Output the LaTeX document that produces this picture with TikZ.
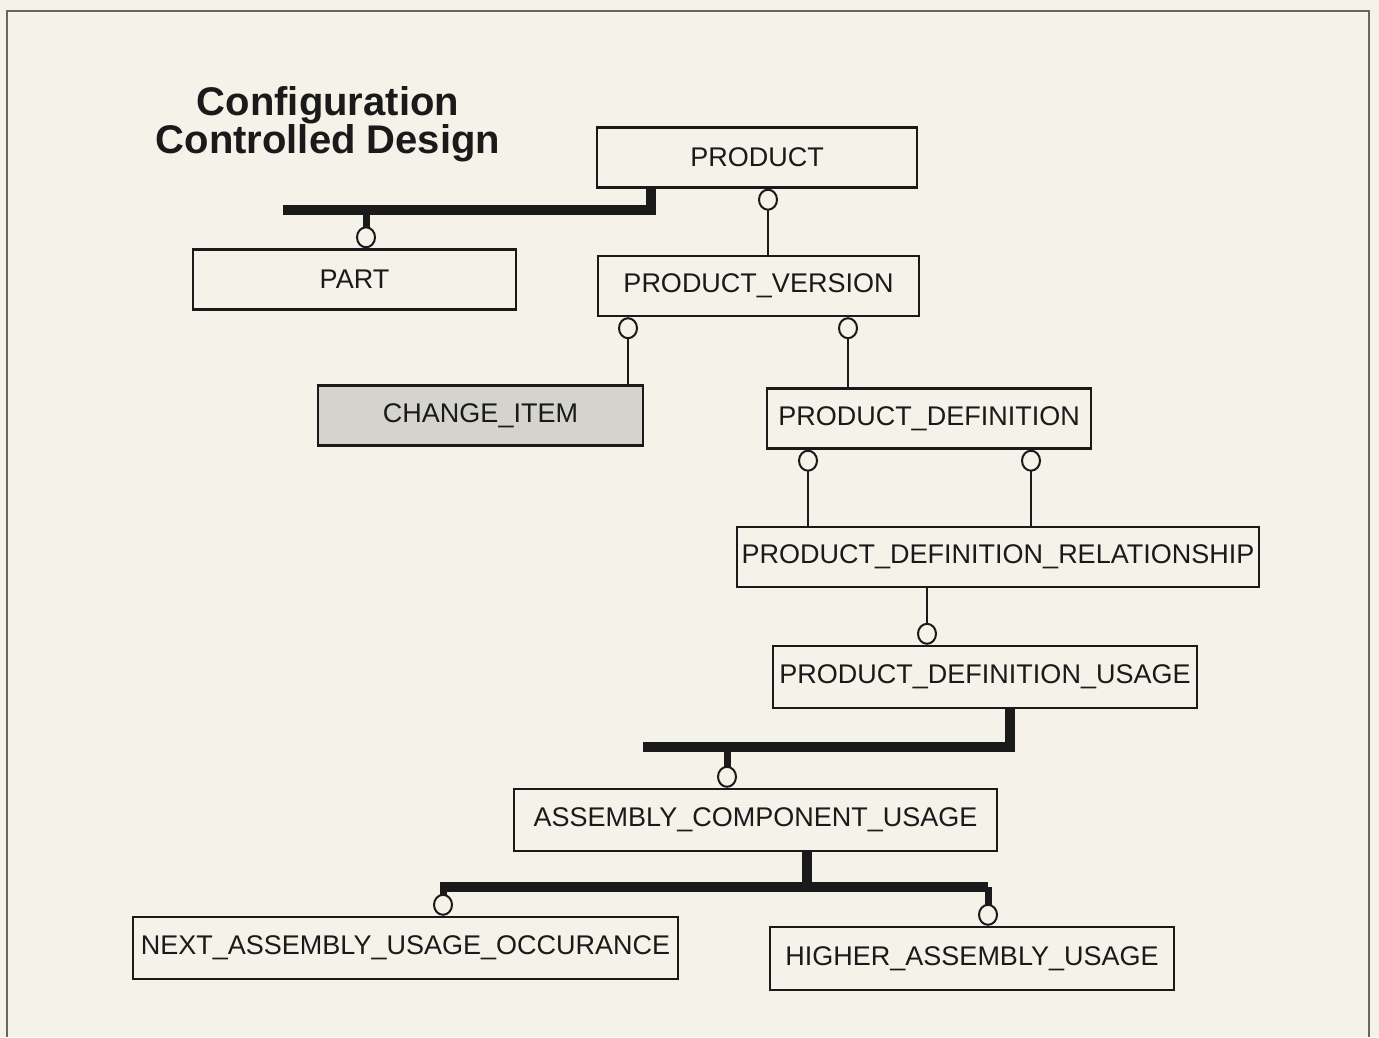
\documentclass[tikz,border=0pt]{standalone}
\usepackage{fontspec}
\setmainfont{Liberation Sans}
\usetikzlibrary{
    arrows.meta,
    positioning,
    calc
}
\definecolor{paper}{RGB}{244,242,233}
\definecolor{ink}{RGB}{26,26,26}
\definecolor{stipple}{RGB}{212,211,205}

\begin{document}
\begin{tikzpicture}[
    x=0.5pt, y=-0.5pt,
    % Boxes of the schema
    entity/.style={
        draw=ink,
        line width=1.2pt,
        fill=paper,
        text=ink,
        minimum height=30pt,
        inner sep=0pt,
        font=\fontsize{13.5}{16}\selectfont
    },
    shaded/.style={
        entity,
        fill=stipple
    },
    title/.style={
        font=\fontsize{20}{19}\selectfont\bfseries,
        text=ink,
        align=center
    },
    % Connectors
    ring/.tip={Circle[length=11pt, width=10pt, line width=1pt, fill=paper]},
    link/.style={
        draw=ink,
        line width=1pt
    },
    bus/.style={
        draw=ink,
        line width=5pt
    },
    stub/.style={
        draw=ink,
        line width=3.5pt
    }
]
    % Page and frame
    \fill[paper] (0,0) rectangle (1379,1037);
    \useasboundingbox (0,0) rectangle (1379,1037);
    \draw[black!60, line width=0.8pt] (7,1037) |- (1369,11) -- (1369,1037);

    % Title
    \node[title] (heading) at (328,124) {Configuration\\Controlled Design};

    % Entities
    \node[entity, minimum width=160pt] (product) at (757,157.5) {PRODUCT};
    \node[entity, minimum width=161.5pt] (part) at (354.5,279.5) {PART};
    \node[entity, minimum width=160.5pt] (version) at (758.5,286) {PRODUCT\_VERSION};
    \node[shaded, minimum width=162.5pt] (change) at (480.5,415.5) {CHANGE\_ITEM};
    \node[entity, minimum width=162pt] (definition) at (929,418.5) {PRODUCT\_DEFINITION};
    \node[entity, minimum width=261pt] (relationship) at (998,557) {PRODUCT\_DEFINITION\_RELATIONSHIP};
    \node[entity, minimum width=212pt, minimum height=31pt] (usage) at (985,677) {PRODUCT\_DEFINITION\_USAGE};
    \node[entity, minimum width=241.5pt, minimum height=31pt] (component) at (755.5,820) {ASSEMBLY\_COMPONENT\_USAGE};
    \node[entity, minimum width=272.5pt, minimum height=31pt] (next) at (405.5,948) {NEXT\_ASSEMBLY\_USAGE\_OCCURANCE};
    \node[entity, minimum width=202pt, minimum height=31.5pt] (higher) at (972,958.5) {HIGHER\_ASSEMBLY\_USAGE};

    % Supertype bars
    \coordinate (partbar) at (283,210);
    \coordinate (usagebar) at (643,747);
    \coordinate (leftbar) at (440,887);
    \coordinate (rightbar) at (988,887);

    \draw[bus] ($(product.south)+(-106,0)$) |- (partbar);
    \draw[stub, -ring] ($(part.north)+(11.5,-39)$) -- ($(part.north)+(11.5,0)$);

    \draw[bus] ($(usage.south)+(25,0)$) |- (usagebar);
    \draw[stub, -ring] ($(component.north)+(-28.5,-42)$) -- ($(component.north)+(-28.5,0)$);

    \draw[bus] ($(component.south)+(51.5,0)$) -- ($(component.south)+(51.5,36)$);
    \draw[bus] (leftbar) -- (rightbar);
    \draw[stub, -ring] ($(next.north)+(37.5,-30)$) -- ($(next.north)+(37.5,0)$);
    \draw[stub, -ring] (rightbar) -- ($(higher.north)+(16,0)$);

    % Simple relations
    \draw[link, ring-] ($(product.south)+(11,0)$) -- ($(version.north)+(9.5,0)$);
    \draw[link, ring-] ($(version.south)+(-130.5,0)$) -- ($(change.north)+(147.5,0)$);
    \draw[link, ring-] ($(version.south)+(89.5,0)$) -- ($(definition.north)+(-81,0)$);
    \draw[link, ring-] ($(definition.south)+(-121,0)$) -- ($(relationship.north)+(-190,0)$);
    \draw[link, ring-] ($(definition.south)+(102,0)$) -- ($(relationship.north)+(33,0)$);
    \draw[link, -ring] ($(relationship.south)+(-71,0)$) -- ($(usage.north)+(-58,0)$);
\end{tikzpicture}
\end{document}
